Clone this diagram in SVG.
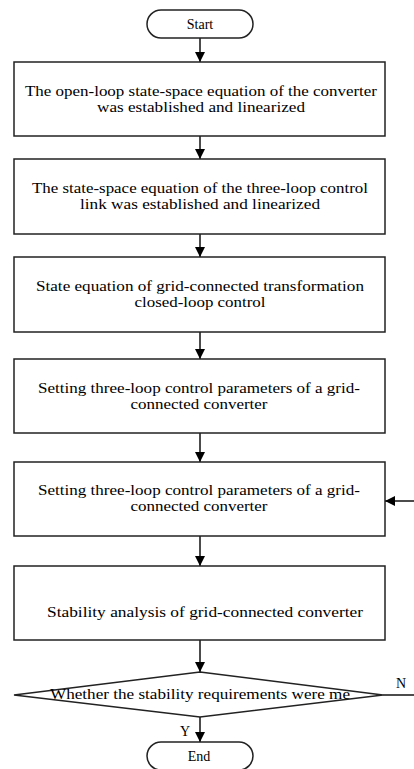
<svg xmlns="http://www.w3.org/2000/svg" width="414" height="769" viewBox="0 0 414 769">
<defs>
<marker id="ah" viewBox="0 0 10 10" refX="10" refY="5" markerWidth="10" markerHeight="10" markerUnits="userSpaceOnUse" orient="auto">
<path d="M0,0 L10,5 L0,10 Z" fill="#000"/>
</marker>
<style>
.box{fill:#fff;stroke:#222;stroke-width:1.5}
.t{font-family:"Liberation Serif","DejaVu Serif",serif;font-size:14px;fill:#000;text-anchor:middle}
.c{fill:none;stroke:#111;stroke-width:1.5}
</style>
</defs>
<rect width="414" height="769" fill="#fff"/>
<g id="connectors">
<line class="c" x1="200" y1="38" x2="200" y2="62" marker-end="url(#ah)"/>
<line class="c" x1="200" y1="136" x2="200" y2="159" marker-end="url(#ah)"/>
<line class="c" x1="200" y1="234" x2="200" y2="257" marker-end="url(#ah)"/>
<line class="c" x1="200" y1="332" x2="200" y2="359" marker-end="url(#ah)"/>
<line class="c" x1="200" y1="433" x2="200" y2="462" marker-end="url(#ah)"/>
<line class="c" x1="200" y1="536" x2="200" y2="566" marker-end="url(#ah)"/>
<line class="c" x1="200" y1="640" x2="200" y2="672" marker-end="url(#ah)"/>
<line class="c" x1="200" y1="717" x2="200" y2="742" marker-end="url(#ah)"/>
<line class="c" x1="383" y1="695" x2="414" y2="695"/>
<line class="c" x1="414" y1="501" x2="385" y2="501" marker-end="url(#ah)"/>
<text class="t" x="401" y="688">N</text>
<text class="t" x="185" y="736">Y</text>
</g>
<g id="start">
<rect class="box" x="147" y="10" width="106" height="28" rx="14"/>
<text class="t" x="200" y="29">Start</text>
</g>
<g id="box1">
<rect class="box" x="14" y="62" width="371" height="74"/>
<text class="t" x="201" y="96" textLength="352" lengthAdjust="spacingAndGlyphs">The open-loop state-space equation of the converter</text>
<text class="t" x="201" y="112" textLength="208" lengthAdjust="spacingAndGlyphs">was established and linearized</text>
</g>
<g id="box2">
<rect class="box" x="14" y="159" width="371" height="75"/>
<text class="t" x="200" y="193" textLength="336" lengthAdjust="spacingAndGlyphs">The state-space equation of the three-loop control</text>
<text class="t" x="200" y="209" textLength="240" lengthAdjust="spacingAndGlyphs">link was established and linearized</text>
</g>
<g id="box3">
<rect class="box" x="14" y="257" width="371" height="75"/>
<text class="t" x="200" y="291" textLength="328" lengthAdjust="spacingAndGlyphs">State equation of grid-connected transformation</text>
<text class="t" x="200" y="307" textLength="131" lengthAdjust="spacingAndGlyphs">closed-loop control</text>
</g>
<g id="box4">
<rect class="box" x="14" y="359" width="371" height="74"/>
<text class="t" x="199" y="393" textLength="322" lengthAdjust="spacingAndGlyphs">Setting three-loop control parameters of a grid-</text>
<text class="t" x="199" y="409" textLength="137" lengthAdjust="spacingAndGlyphs">connected converter</text>
</g>
<g id="box5">
<rect class="box" x="14" y="462" width="371" height="74"/>
<text class="t" x="199" y="495" textLength="322" lengthAdjust="spacingAndGlyphs">Setting three-loop control parameters of a grid-</text>
<text class="t" x="199" y="511" textLength="137" lengthAdjust="spacingAndGlyphs">connected converter</text>
</g>
<g id="box6">
<rect class="box" x="14" y="566" width="371" height="74"/>
<text class="t" x="205" y="617" textLength="316" lengthAdjust="spacingAndGlyphs">Stability analysis of grid-connected converter</text>
</g>
<g id="decision">
<polygon class="box" points="200,672 383,695 200,717 14,695"/>
<text class="t" x="200" y="699" textLength="300" lengthAdjust="spacingAndGlyphs">Whether the stability requirements were me</text>
</g>
<g id="end">
<rect class="box" x="147" y="742" width="106" height="28" rx="14"/>
<text class="t" x="199" y="761">End</text>
</g>
</svg>
